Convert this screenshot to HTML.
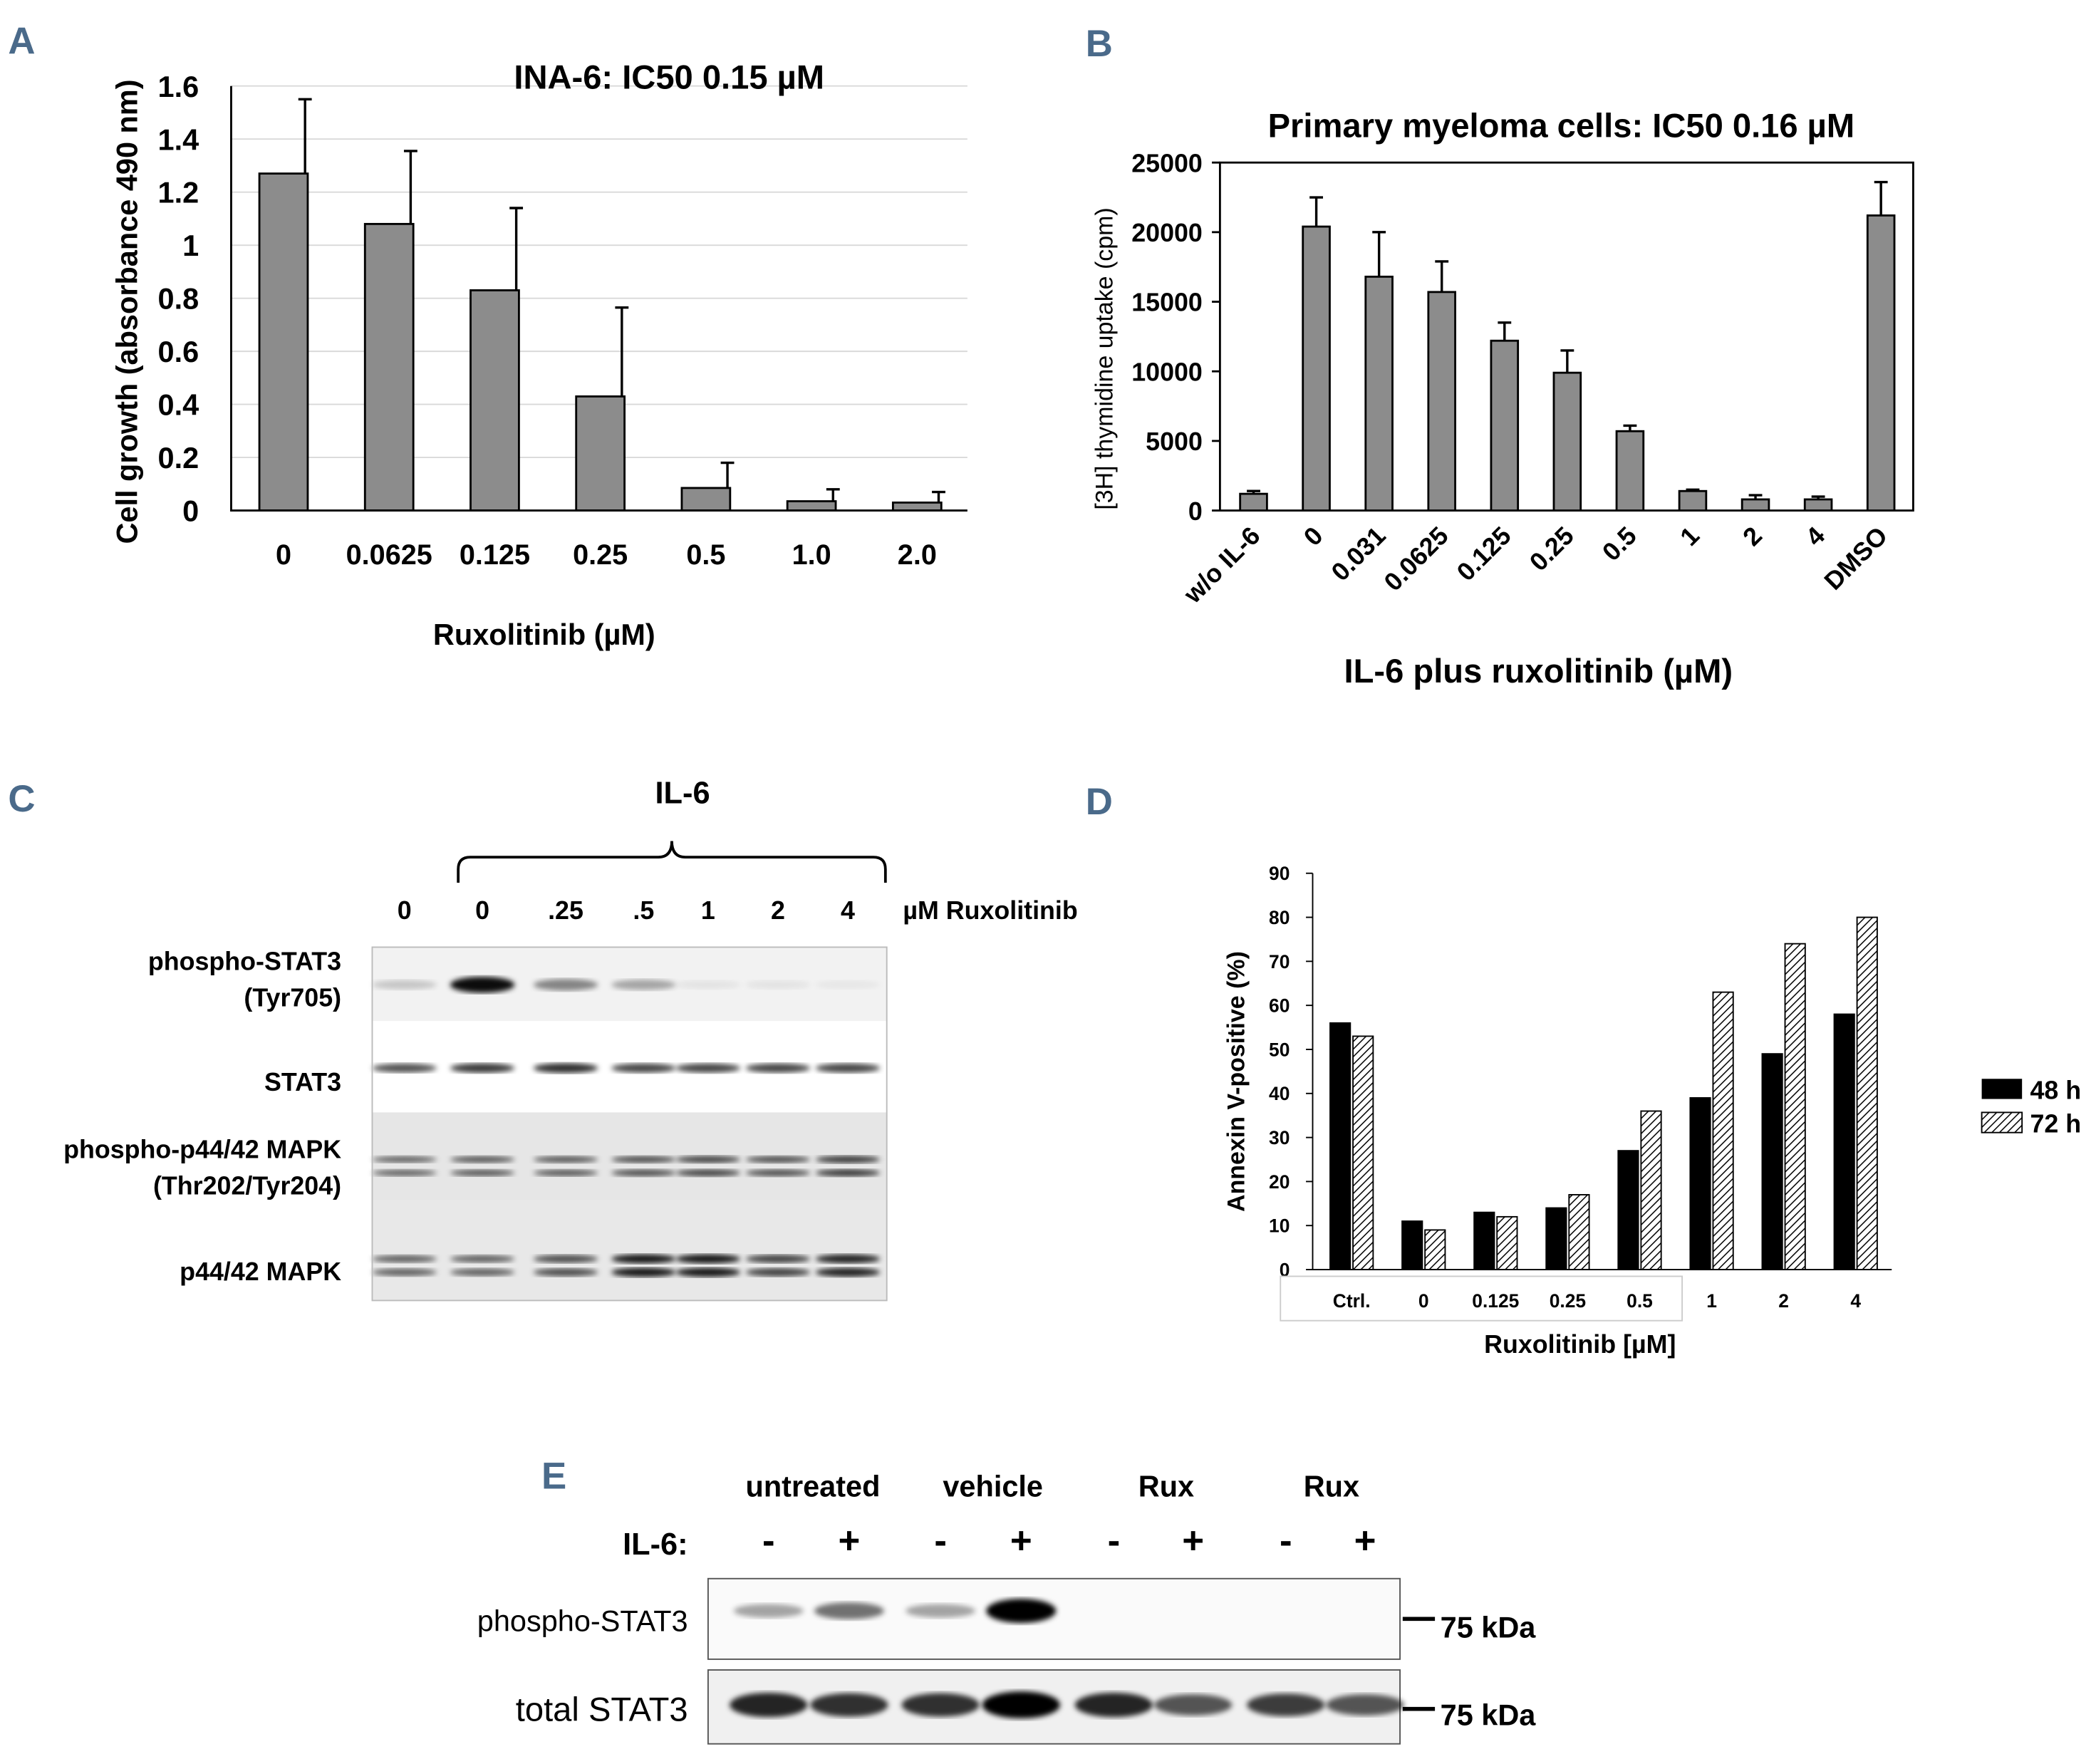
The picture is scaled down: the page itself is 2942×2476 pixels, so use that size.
<!DOCTYPE html>
<html><head><meta charset="utf-8">
<style>
html,body{margin:0;padding:0;background:#fff}
svg{display:block}
text{font-family:"Liberation Sans",sans-serif}
.b{font-weight:bold}
</style></head>
<body>
<svg id="fig" width="2942" height="2476" viewBox="0 0 1560 1313" xmlns="http://www.w3.org/2000/svg">
<defs>
<pattern id="hatch" width="4" height="4" patternUnits="userSpaceOnUse" patternTransform="rotate(45)">
<rect width="4" height="4" fill="#fff"/><line x1="0" y1="0" x2="0" y2="4" stroke="#000" stroke-width="1.6"/>
</pattern>
<filter id="blur"><feGaussianBlur stdDeviation="2"/></filter>
</defs>
<g id="pA"></g>
<g id="pB"></g>
<g id="pC"></g>
<g id="pD"></g>
<g id="pE"></g>
</svg>
<script>
// Panel A data
const aCats=["0","0.0625","0.125","0.25","0.5","1.0","2.0"];
const aVals=[1.27,1.08,0.83,0.43,0.085,0.035,0.03];
const aErr=[1.55,1.355,1.14,0.765,0.18,0.08,0.07];
const aTicks=["0","0.2","0.4","0.6","0.8","1","1.2","1.4","1.6"];
// Panel B data
const bCats=["w/o IL-6","0","0.031","0.0625","0.125","0.25","0.5","1","2","4","DMSO"];
const bVals=[1200,20400,16800,15700,12200,9900,5700,1400,800,800,21200];
const bErr=[1400,22500,20000,17900,13500,11500,6100,1500,1100,1000,23600];
const bTicks=[0,5000,10000,15000,20000,25000];
// Panel D data
const dCats=["Ctrl.","0","0.125","0.25","0.5","1","2","4"];
const d48=[56,11,13,14,27,39,49,58];
const d72=[53,9,12,17,36,63,74,80];
const dTicks=[0,10,20,30,40,50,60,70,80,90];

const NS="http://www.w3.org/2000/svg";
function el(p,tag,at,txt){const e=document.createElementNS(NS,tag);for(const k in at)e.setAttribute(k,at[k]);if(txt!==undefined)e.textContent=txt;p.appendChild(e);return e;}

// ---------- Panel A ----------
(function(){
const g=document.getElementById('pA');
const y=v=>380-v*(316/1.6); const x=i=>211+i*78.6;
let t=el(g,'text',{x:6,y:40,'font-size':28,fill:'#4a6a8a',class:'b'},'A');

aTicks.forEach((s,i)=>{const v=parseFloat(s);
 if(i>0){const l=el(g,'line',{x1:172,x2:720,y1:y(v),y2:y(v),stroke:'#d9d9d9','stroke-width':1});}
 const tx=el(g,'text',{x:148,y:y(v)+8,'font-size':22,'text-anchor':'end',class:'b'},s);
 });
aVals.forEach((v,i)=>{
 const r=el(g,'rect',{x:x(i)-18,y:y(v),width:36,height:380-y(v),fill:'#8c8c8c',stroke:'#000','stroke-width':1.5});
 
 const ex=x(i)+16;
 const e=el(g,'path',{d:`M${ex},${y(v)}V${y(aErr[i])}M${ex-5},${y(aErr[i])}H${ex+5}`,stroke:'#000','stroke-width':1.8,fill:'none'});
 
 const tx=el(g,'text',{x:x(i),y:420,'font-size':21,'text-anchor':'middle',class:'b'},aCats[i]);
 });
let ax=el(g,'path',{d:'M172,64V380H720',stroke:'#000','stroke-width':1.5,fill:'none'});

t=el(g,'text',{x:498,y:66,'font-size':25,'text-anchor':'middle',class:'b'},'INA-6: IC50 0.15 µM');

t=el(g,'text',{x:0,y:0,'font-size':22,'text-anchor':'middle',class:'b',transform:'translate(102,232) rotate(-90)'},'Cell growth (absorbance 490 nm)');

t=el(g,'text',{x:405,y:480,'font-size':22,'text-anchor':'middle',class:'b'},'Ruxolitinib (µM)');

})();

// ---------- Panel B ----------
(function(){
const g=document.getElementById('pB');
const y=v=>380-v*(259/25000); const x=i=>933+i*46.7;
let t=el(g,'text',{x:808,y:42,'font-size':28,fill:'#4a6a8a',class:'b'},'B');

bTicks.forEach(v=>{const tx=el(g,'text',{x:895,y:y(v)+7,'font-size':19,'text-anchor':'end',class:'b'},String(v));
 
 const tk=el(g,'line',{x1:902,x2:908,y1:y(v),y2:y(v),stroke:'#000','stroke-width':1.5});});
let bx=el(g,'rect',{x:908,y:121,width:516,height:259,fill:'none',stroke:'#000','stroke-width':1.5});

bVals.forEach((v,i)=>{
 const r=el(g,'rect',{x:x(i)-10,y:y(v),width:20,height:380-y(v),fill:'#8c8c8c',stroke:'#000','stroke-width':1.5});
 
 const e=el(g,'path',{d:`M${x(i)},${y(v)}V${y(bErr[i])}M${x(i)-5},${y(bErr[i])}H${x(i)+5}`,stroke:'#000','stroke-width':1.8,fill:'none'});
 
 const tx=el(g,'text',{x:0,y:0,'font-size':19,'text-anchor':'end',class:'b',transform:`translate(${x(i)+6},${400}) rotate(-45)`},bCats[i]);
 });
t=el(g,'text',{x:1162,y:102,'font-size':25,'text-anchor':'middle',class:'b'},'Primary myeloma cells: IC50 0.16 µM');

t=el(g,'text',{x:0,y:0,'font-size':18,'text-anchor':'middle',transform:'translate(828,267) rotate(-90)'},'[3H] thymidine uptake (cpm)');

t=el(g,'text',{x:1145,y:508,'font-size':25,'text-anchor':'middle',class:'b'},'IL-6 plus ruxolitinib (µM)');

})();

// ---------- Panel C (western blot) ----------
(function(){
const g=document.getElementById('pC');
const lanes=["0","0",".25",".5","1","2","4"];
const lx=[301,359,421,479,527,579,631];
const pstat=[0.15,1,0.45,0.3,0.02,0.02,0];
const stat=[0.7,0.8,0.85,0.75,0.75,0.75,0.75];
const mapk=[0.6,0.65,0.65,0.7,0.75,0.7,0.8];
const p44=[0.6,0.6,0.7,0.95,0.95,0.75,0.9];
let t=el(g,'text',{x:6,y:604,'font-size':28,fill:'#4a6a8a',class:'b'},'C');

t=el(g,'text',{x:508,y:598,'font-size':23,'text-anchor':'middle',class:'b'},'IL-6');

t=el(g,'path',{d:'M341,657V647Q341,638 350,638H490Q500,638 500,626Q500,638 510,638H650Q659,638 659,647V657',stroke:'#000','stroke-width':2,fill:'none'});

lanes.forEach((s,i)=>{const tx=el(g,'text',{x:lx[i],y:684,'font-size':19,'text-anchor':'middle',class:'b'},s);
 });
t=el(g,'text',{x:672,y:684,'font-size':19,class:'b'},'µM Ruxolitinib');

const strips=[[705,760,'#f2f2f2'],[760,828,'#ffffff'],[828,893,'#e6e6e6'],[893,968,'#e8e8e8']];
strips.forEach(s=>{const r=el(g,'rect',{x:277,y:s[0],width:383,height:s[1]-s[0],fill:s[2]});});
const bands=(vals,yc,h,dbl)=>vals.forEach((v,i)=>{
 const ys=dbl?[yc-5,yc+5]:[yc];
 ys.forEach(yy=>{const e=el(g,'ellipse',{cx:lx[i],cy:yy,rx:24,ry:h*(0.5+v/2),fill:'#000','fill-opacity':Math.min(1,v*0.9+0.05),filter:'url(#blur)'});
 });});
bands(pstat,733,6,false);bands(stat,795,4,false);bands(mapk,868,3,true);bands(p44,942,3.5,true);
const r=el(g,'rect',{x:277,y:705,width:383,height:263,fill:'none',stroke:'#bbb','stroke-width':1});

const labs=[['phospho-STAT3',722],['(Tyr705)',749],['STAT3',812],['phospho-p44/42 MAPK',862],['(Thr202/Tyr204)',889],['p44/42 MAPK',953]];
labs.forEach(l=>{const tx=el(g,'text',{x:254,y:l[1],'font-size':19,'text-anchor':'end',class:'b'},l[0]);
 });
})();

// ---------- Panel D ----------
(function(){
const g=document.getElementById('pD');
const y=v=>945-v*(295/90); const x=i=>1006+i*53.6;
let t=el(g,'text',{x:808,y:606,'font-size':28,fill:'#4a6a8a',class:'b'},'D');

dTicks.forEach(v=>{const tx=el(g,'text',{x:960,y:y(v)+5,'font-size':14,'text-anchor':'end',class:'b'},String(v));
 
 const tk=el(g,'line',{x1:972,x2:977,y1:y(v),y2:y(v),stroke:'#000','stroke-width':1});});
dCats.forEach((c,i)=>{
 const r1=el(g,'rect',{x:x(i)-16,y:y(d48[i]),width:15,height:945-y(d48[i]),fill:'#000',stroke:'#000','stroke-width':1});
 
 const r2=el(g,'rect',{x:x(i)+1,y:y(d72[i]),width:15,height:945-y(d72[i]),fill:'url(#hatch)',stroke:'#000','stroke-width':1});
 
 const tx=el(g,'text',{x:x(i),y:973,'font-size':14,'text-anchor':'middle',class:'b'},c);
 });
let ax=el(g,'path',{d:'M977,650V945H1408',stroke:'#000','stroke-width':1,fill:'none'});

ax=el(g,'rect',{x:953,y:950,width:299,height:33,fill:'none',stroke:'#ccc','stroke-width':1});

t=el(g,'text',{x:0,y:0,'font-size':18,'text-anchor':'middle',class:'b',transform:'translate(926,805) rotate(-90)'},'Annexin V-positive (%)');

t=el(g,'text',{x:1176,y:1007,'font-size':19,'text-anchor':'middle',class:'b'},'Ruxolitinib [µM]');

let lg=el(g,'rect',{x:1475,y:803,width:30,height:15,fill:'#000'});
lg=el(g,'rect',{x:1475,y:828,width:30,height:15,fill:'url(#hatch)',stroke:'#000'});
t=el(g,'text',{x:1511,y:818,'font-size':19,class:'b'},'48 h');
t=el(g,'text',{x:1511,y:843,'font-size':19,class:'b'},'72 h');
})();

// ---------- Panel E ----------
(function(){
const g=document.getElementById('pE');
const lx=[572,632,700,760,829,888,957,1016];
const signs=["-","+","-","+","-","+","-","+"];
const pst=[0.35,0.55,0.35,1,0,0,0,0];
const tot=[0.85,0.8,0.8,1,0.85,0.65,0.75,0.65];
let t=el(g,'text',{x:403,y:1108,'font-size':28,fill:'#4a6a8a',class:'b'},'E');

[['untreated',605],['vehicle',739],['Rux',868],['Rux',991]].forEach(h=>{
 const tx=el(g,'text',{x:h[1],y:1114,'font-size':22,'text-anchor':'middle',class:'b'},h[0]);
 });
t=el(g,'text',{x:512,y:1157,'font-size':23,'text-anchor':'end',class:'b'},'IL-6:');

signs.forEach((s,i)=>{const tx=el(g,'text',{x:lx[i],y:1156,'font-size':28,'text-anchor':'middle',class:'b'},s);
 });
let r=el(g,'rect',{x:527,y:1175,width:515,height:60,fill:'#fafafa',stroke:'#555','stroke-width':1});

r=el(g,'rect',{x:527,y:1243,width:515,height:55,fill:'#f0f0f0',stroke:'#555','stroke-width':1});

pst.forEach((v,i)=>{if(v>0){const e=el(g,'ellipse',{cx:lx[i],cy:1199,rx:26,ry:3+v*6,fill:'#000','fill-opacity':v,filter:'url(#blur)'});
 }});
tot.forEach((v,i)=>{const e=el(g,'ellipse',{cx:lx[i],cy:1269,rx:29,ry:4+v*6,fill:'#000','fill-opacity':v,filter:'url(#blur)'});
 });
t=el(g,'text',{x:512,y:1214,'font-size':22,'text-anchor':'end'},'phospho-STAT3');

t=el(g,'text',{x:512,y:1281,'font-size':25,'text-anchor':'end'},'total STAT3');

[[1205,1219],[1272,1284]].forEach(m=>{
 const l=el(g,'line',{x1:1044,x2:1068,y1:m[0],y2:m[0],stroke:'#000','stroke-width':3});
 const tx=el(g,'text',{x:1072,y:m[1],'font-size':22,class:'b'},'75 kDa');});
})();
</script>
</body></html>
